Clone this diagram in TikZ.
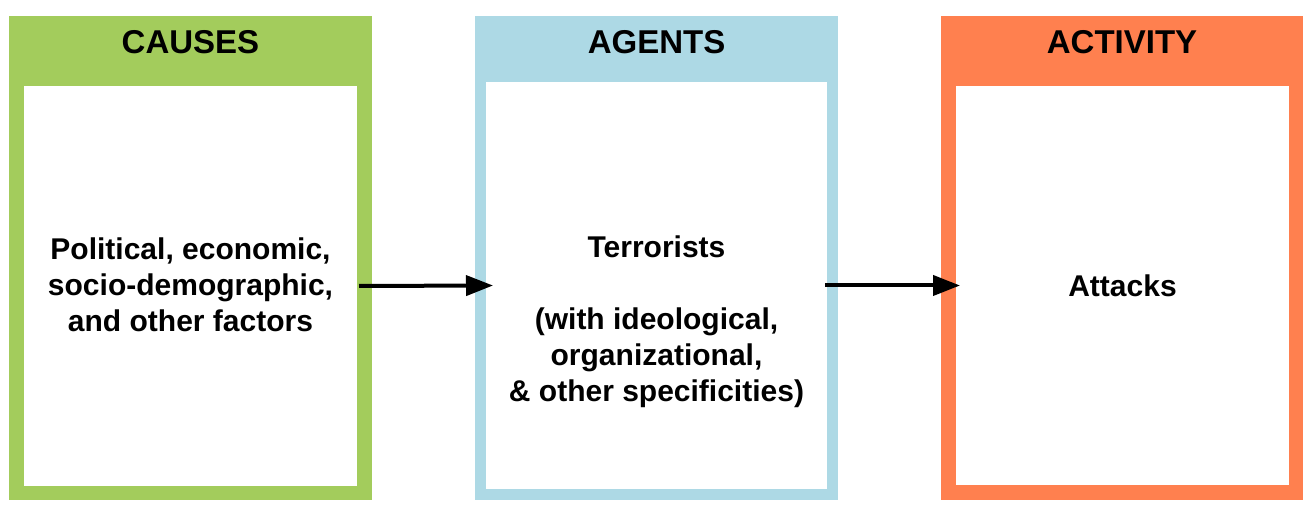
\documentclass[tikz,border=0pt]{standalone}
\usepackage{fontspec}
\setmainfont{Liberation Sans}
\usetikzlibrary{arrows.meta}
\definecolor{cgreen}{rgb}{0.64, 0.80, 0.36}
\definecolor{cblue}{rgb}{0.68, 0.85, 0.90}
\definecolor{corange}{rgb}{1, 0.50, 0.31}

\begin{document}
\begin{tikzpicture}[x=1pt, y=1pt, ->, >={Triangle[length=27pt,width=20pt]}, line width=4pt]
	\tikzstyle{panel}=[rectangle, inner sep=0pt, minimum width=363pt, minimum height=484pt]
	\tikzstyle{inbox}=[rectangle, fill=white, inner sep=0pt]
	\tikzstyle{title}=[font=\fontsize{33}{39}\selectfont\bfseries, text=black]
	\tikzstyle{txt}=[font=\fontsize{30}{36}\selectfont\bfseries, align=center, inner sep=0pt, text=black]

	\useasboundingbox (0,0) rectangle (1313,510);

	% PANNEAUX
	\node[panel, fill=cgreen] (Causes) at (190.5, 252) {};
	\node[panel, fill=cblue] (Agents) at (656.5, 252) {};
	\node[panel, fill=corange, minimum width=362pt] (Activity) at (1122, 252) {};
	\node[inbox, minimum width=333pt, minimum height=400pt] (CausesIn) at (190.5, 224) {};
	\node[inbox, minimum width=341pt, minimum height=407pt] (AgentsIn) at (656.5, 224.5) {};
	\node[inbox, minimum width=333pt, minimum height=399pt] (ActivityIn) at (1122.5, 224.5) {};

	% TITRES
	\node[title] at (190.5, 468) {CAUSES};
	\node[title] at (656.5, 468) {AGENTS};
	\node[title] at (1122, 468) {ACTIVITY};

	% TEXTES
	\node[txt] at (190.5, 225.5) {Political, economic,\\ socio-demographic,\\ and other factors};
	\node[txt] at (656.5, 188) {Terrorists\\[36pt] (with ideological,\\ organizational,\\ \& other specificities)};
	\node[txt] at (ActivityIn) {Attacks};

	% FLECHES
	\path
		(CausesIn.east) edge [draw] ([xshift=9pt]AgentsIn.west)
		([xshift=-4pt]AgentsIn.east) edge [draw] ([xshift=6pt]ActivityIn.west)
	;
\end{tikzpicture}
\end{document}
